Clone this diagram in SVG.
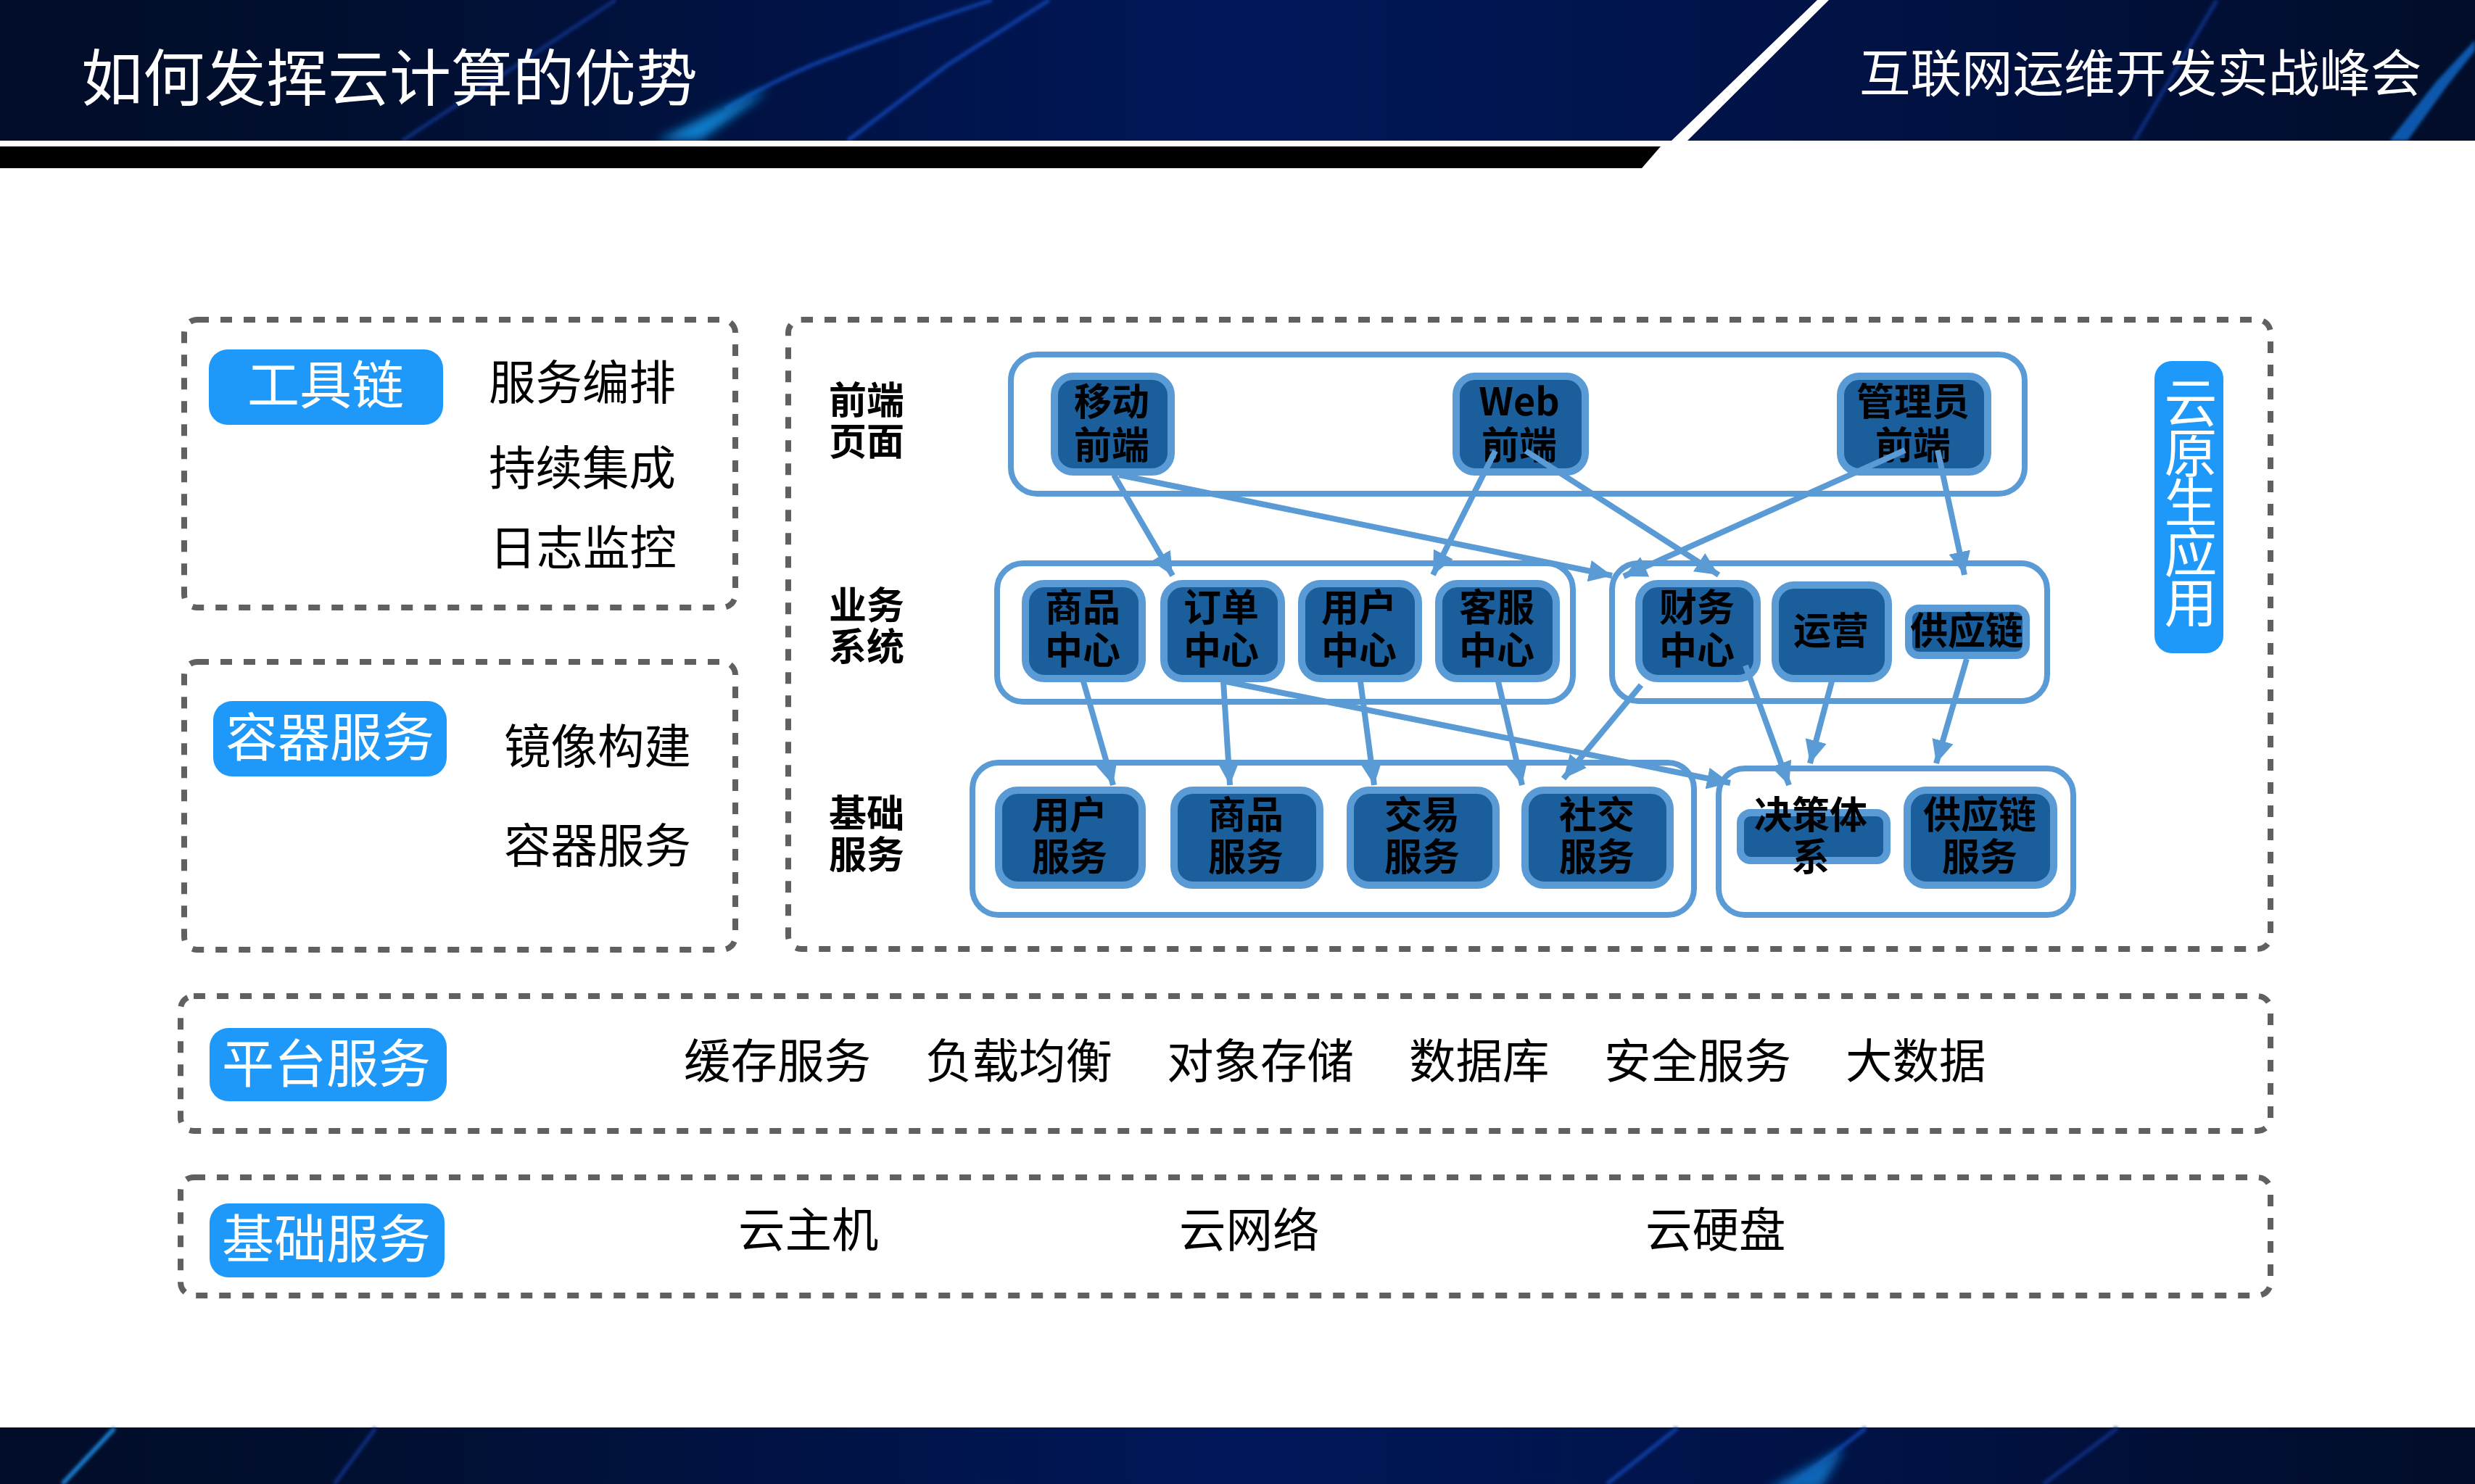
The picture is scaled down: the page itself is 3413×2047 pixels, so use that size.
<svg xmlns="http://www.w3.org/2000/svg" width="3413" height="2047" viewBox="0 0 3413 2047">
<defs>
<linearGradient id="band" x1="0" y1="0" x2="1" y2="0">
<stop offset="0" stop-color="#010d28"/><stop offset="0.15" stop-color="#010f30"/><stop offset="0.5" stop-color="#00175a"/><stop offset="0.8" stop-color="#011140"/><stop offset="1" stop-color="#010d28"/>
</linearGradient>
<filter id="b1" x="-50%" y="-20%" width="200%" height="140%"><feGaussianBlur stdDeviation="2"/></filter>
<filter id="b2" x="-50%" y="-30%" width="200%" height="160%"><feGaussianBlur stdDeviation="7"/></filter>
<marker id="arrow" markerUnits="userSpaceOnUse" markerWidth="34" markerHeight="30" refX="32" refY="15" orient="auto">
<path d="M0 0L32 15L0 30Z" fill="#5b9bd5"/>
</marker>
</defs>
<style>
text{font-family:"Noto Sans CJK SC","Noto Sans",sans-serif}
.dash{fill:none;stroke:#606060;stroke-width:8;stroke-dasharray:16 16}
.grp2{fill:none;stroke:#5b9bd5;stroke-width:8}
.pill{fill:#1e98f9}
.pt{fill:#fff;font-size:72px;text-anchor:middle}
.item{fill:#000;font-size:64.5px}
.lab{fill:#000;font-size:52px;font-weight:700}
.nr{fill:#1b5e9c;stroke:#5b9bd5;stroke-width:10}
.nt{fill:#000;font-size:52px;font-weight:700;text-anchor:middle}
.conn line{stroke:#5b9bd5;stroke-width:8;marker-end:url(#arrow)}
.s1{stroke:#0a3a9c;stroke-width:6;fill:none;filter:url(#b1)}
.s2{stroke:#082c78;stroke-width:6;fill:none;filter:url(#b1)}
</style>
<rect width="3413" height="2047" fill="#fff"/>
<g id="header">
<rect width="3413" height="194" fill="url(#band)"/>
<path class="s2" d="M849 0L555 194"/>
<path class="s1" d="M1447 0L1306 90L1169 194"/>
<path class="s1" d="M1368 0Q1264 33 1119 90Q1060 115 1000 150"/>
<path d="M1060 122L990 152L905 194H965L1040 140Z" fill="#0e7fcc" filter="url(#b2)"/>
<rect y="194" width="3413" height="8" fill="#fff"/>
<path class="s2" d="M3057 0L2943 194"/>
<path d="M3413 55L3360 112L3295 194H3320L3375 118L3413 70Z" fill="#0c58ac" filter="url(#b1)"/>
<rect y="194" width="3413" height="8" fill="#fff"/>
<path d="M0 202H2290L2264 232H0Z" fill="#000"/>
<path d="M2506 0H2522L2327 194H2305Z" fill="#fff"/>
<rect y="194" x="2310" width="1103" height="38" fill="#fff"/>
<text x="112" y="139" font-size="85" fill="#fff">如何发挥云计算的优势</text>
<text x="2564" y="127" font-size="70.5" fill="#fff">互联网运维开发实战峰会</text>
</g>
<g id="footer">
<rect y="1969" width="3413" height="78" fill="url(#band)"/>
<path d="M158 1970L86 2047" stroke="#1a7fd0" stroke-width="6" filter="url(#b1)"/>
<path class="s2" d="M518 1970L461 2047"/>
<path class="s1" d="M2313 1970L2216 2047"/>
<path class="s1" d="M2573 1970L2470 2050"/>
<path d="M2545 1995L2436 2055H2510Z" fill="#0c68b8" filter="url(#b2)"/>
<path class="s2" d="M2920 1970L2818 2047"/>
</g>
<g id="panel-toolchain">
<rect class="dash" x="254" y="441" width="760" height="397" rx="18"/>
<rect class="pill" x="288" y="482" width="323" height="104" rx="26"/>
<text class="pt" x="449" y="557">工具链</text>
<text class="item" x="674" y="551">服务编排</text>
<text class="item" x="674" y="669">持续集成</text>
<text class="item" x="675" y="779">日志监控</text>
</g>
<g id="panel-container">
<rect class="dash" x="254" y="913" width="760" height="397" rx="18"/>
<rect class="pill" x="294" y="967" width="322" height="104" rx="26"/>
<text class="pt" x="455" y="1043">容器服务</text>
<text class="item" x="695" y="1053">镜像构建</text>
<text class="item" x="695" y="1190">容器服务</text>
</g>
<g id="panel-platform">
<rect class="dash" x="249" y="1374" width="2882" height="186" rx="18"/>
<rect class="pill" x="289" y="1418" width="327" height="101" rx="26"/>
<text class="pt" x="450" y="1493">平台服务</text>
<text class="item" x="943" y="1487">缓存服务</text>
<text class="item" x="1276" y="1487">负载均衡</text>
<text class="item" x="1609" y="1487">对象存储</text>
<text class="item" x="1943" y="1487">数据库</text>
<text class="item" x="2212" y="1487">安全服务</text>
<text class="item" x="2545" y="1487">大数据</text>
</g>
<g id="panel-infra">
<rect class="dash" x="249" y="1624" width="2882" height="163" rx="18"/>
<rect class="pill" x="289" y="1660" width="324" height="102" rx="26"/>
<text class="pt" x="450" y="1735">基础服务</text>
<text class="item" x="1018" y="1720">云主机</text>
<text class="item" x="1626" y="1720">云网络</text>
<text class="item" x="2269" y="1720">云硬盘</text>
</g>
<g id="panel-cloud-native">
<rect class="dash" x="1087" y="441" width="2044" height="868" rx="18"/>
<rect class="pill" x="2971" y="498" width="95" height="403" rx="24"/>
<text x="3021" y="518" font-size="73" fill="#fff" style="writing-mode:vertical-rl;text-orientation:upright;letter-spacing:-4px">云原生应用</text>
<text class="lab" x="1143" y="571">前端</text>
<text class="lab" x="1143" y="628">页面</text>
<text class="lab" x="1143" y="854">业务</text>
<text class="lab" x="1143" y="911">系统</text>
<text class="lab" x="1143" y="1141">基础</text>
<text class="lab" x="1143" y="1198">服务</text>
</g>
<g id="containers">
<rect class="grp2" x="1394" y="489" width="1398" height="192" rx="36"/>
<rect class="grp2" x="1375" y="777" width="794" height="191" rx="36"/>
<rect class="grp2" x="2223" y="777" width="600" height="190" rx="36"/>
<rect class="grp2" x="1341" y="1052" width="995" height="210" rx="36"/>
<rect class="grp2" x="2370" y="1060" width="489" height="202" rx="36"/>
</g>
<g id="n-mobile"><rect class="nr" x="1454" y="519" width="161" height="132" rx="26"/><text class="nt" x="1533" y="573">移动</text><text class="nt" x="1533" y="633">前端</text></g>
<g id="n-web"><rect class="nr" x="2008" y="519" width="178" height="132" rx="26"/><text class="nt" x="2095" y="573">Web</text><text class="nt" x="2095" y="633">前端</text></g>
<g id="n-admin"><rect class="nr" x="2538" y="519" width="203" height="132" rx="26"/><text class="nt" x="2638" y="573">管理员</text><text class="nt" x="2638" y="633">前端</text></g>
<g id="n-goods-center"><rect class="nr" x="1414" y="805" width="161" height="131" rx="26"/><text class="nt" x="1493" y="857">商品</text><text class="nt" x="1493" y="916">中心</text></g>
<g id="n-order-center"><rect class="nr" x="1605" y="805" width="162" height="131" rx="26"/><text class="nt" x="1684" y="857">订单</text><text class="nt" x="1684" y="916">中心</text></g>
<g id="n-user-center"><rect class="nr" x="1795" y="805" width="161" height="131" rx="26"/><text class="nt" x="1874" y="857">用户</text><text class="nt" x="1874" y="916">中心</text></g>
<g id="n-service-center"><rect class="nr" x="1984" y="805" width="162" height="131" rx="26"/><text class="nt" x="2064" y="857">客服</text><text class="nt" x="2064" y="916">中心</text></g>
<g id="n-finance"><rect class="nr" x="2260" y="805" width="163" height="131" rx="26"/><text class="nt" x="2340" y="857">财务</text><text class="nt" x="2340" y="916">中心</text></g>
<g id="n-ops"><rect class="nr" x="2448" y="807" width="156" height="129" rx="26"/><text class="nt" x="2525" y="889">运营</text></g>
<g id="n-supply"><rect class="nr" x="2632" y="839" width="162" height="65" rx="14"/><text class="nt" x="2712" y="889">供应链</text></g>
<g id="n-user-svc"><rect class="nr" x="1377" y="1090" width="198" height="131" rx="26"/><text class="nt" x="1475" y="1143">用户</text><text class="nt" x="1475" y="1201">服务</text></g>
<g id="n-goods-svc"><rect class="nr" x="1619" y="1090" width="201" height="131" rx="26"/><text class="nt" x="1718" y="1143">商品</text><text class="nt" x="1718" y="1201">服务</text></g>
<g id="n-trade-svc"><rect class="nr" x="1862" y="1090" width="201" height="131" rx="26"/><text class="nt" x="1961" y="1143">交易</text><text class="nt" x="1961" y="1201">服务</text></g>
<g id="n-social-svc"><rect class="nr" x="2103" y="1090" width="200" height="131" rx="26"/><text class="nt" x="2202" y="1143">社交</text><text class="nt" x="2202" y="1201">服务</text></g>
<g id="n-decision"><rect class="nr" x="2400" y="1121" width="202" height="66" rx="14"/><text class="nt" x="2497" y="1143">决策体</text><text class="nt" x="2497" y="1201">系</text></g>
<g id="n-supply-svc"><rect class="nr" x="2630" y="1090" width="202" height="131" rx="26"/><text class="nt" x="2730" y="1143">供应链</text><text class="nt" x="2730" y="1201">服务</text></g>
<g id="connectors" class="conn">
<line x1="1536" y1="655" x2="1617" y2="794"/>
<line x1="1543" y1="655" x2="2223" y2="794"/>
<line x1="2062" y1="622" x2="1976" y2="793"/>
<line x1="2104" y1="622" x2="2370" y2="793"/>
<line x1="2627" y1="621" x2="2239" y2="795"/>
<line x1="2672" y1="621" x2="2709" y2="793"/>
<line x1="1494" y1="940" x2="1535" y2="1083"/>
<line x1="1687" y1="940" x2="1696" y2="1083"/>
<line x1="1876" y1="940" x2="1895" y2="1083"/>
<line x1="2066" y1="940" x2="2099" y2="1083"/>
<line x1="2263" y1="945" x2="2156" y2="1074"/>
<line x1="1690" y1="940" x2="2386" y2="1080"/>
<line x1="2407" y1="918" x2="2467" y2="1083"/>
<line x1="2526" y1="940" x2="2496" y2="1053"/>
<line x1="2712" y1="909" x2="2670" y2="1053"/>
</g>
</svg>
